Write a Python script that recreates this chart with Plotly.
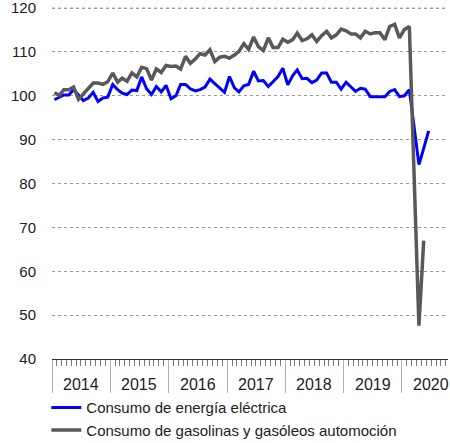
import pandas as pd
import plotly.graph_objects as go

# Monthly categories: Jan 2014 .. Jun 2020
months = pd.date_range("2014-01-01", "2020-06-01", freq="MS")
years = [2014, 2015, 2016, 2017, 2018, 2019, 2020]
y_ticks = [40, 50, 60, 70, 80, 90, 100, 110, 120]

electricidad = [
    99.1, 99.7, 100.2, 100.2, 101.4, 100.2, 98.9, 99.5, 100.8, 98.7, 99.5, 99.7,   # 2014
    102.6, 101.4, 100.6, 100.3, 101.3, 101.2, 104.3, 101.6, 100.3, 102.1, 100.9, 102.4,  # 2015
    99.3, 100.0, 102.6, 102.6, 101.6, 101.1, 101.4, 102.0, 103.8, 102.8, 101.8, 100.8,  # 2016
    104.4, 101.8, 100.9, 102.3, 102.6, 105.6, 103.4, 103.5, 102.1, 103.3, 104.4, 106.3,  # 2017
    102.5, 104.6, 105.9, 103.9, 104.0, 103.0, 103.6, 105.2, 105.2, 103.1, 103.1, 101.5,  # 2018
    103.1, 102.0, 101.0, 101.7, 101.5, 99.8, 99.8, 99.8, 99.8, 101.0, 101.4, 99.8,      # 2019
    100.0, 101.4, 93.0, 84.3, 88.0, 92.0,                                              # 2020
]

carburantes = [
    100.7, 100.1, 101.4, 101.4, 102.0, 99.2, 100.4, 101.6, 102.9, 102.9, 102.6, 103.2,  # 2014
    105.2, 103.1, 104.0, 103.3, 105.2, 104.3, 106.5, 106.2, 103.6, 106.1, 105.3, 106.9,  # 2015
    106.7, 106.8, 106.1, 109.0, 107.4, 108.4, 109.6, 109.3, 110.5, 107.8, 108.8, 109.0,  # 2016
    108.6, 109.3, 110.1, 111.9, 110.6, 113.4, 111.2, 110.3, 113.2, 111.0, 111.0, 112.9,  # 2017
    112.2, 112.8, 114.3, 112.6, 113.0, 113.9, 112.4, 113.7, 114.7, 113.2, 113.9, 115.2,  # 2018
    114.8, 114.1, 114.1, 113.2, 114.7, 114.1, 114.4, 114.4, 112.8, 115.8, 116.3, 113.2,  # 2019
    115.1, 115.8, 82.0, 47.6, 67.0,                                                    # 2020
]

series_names = [
    "Consumo de energía eléctrica",
    "Consumo de gasolinas y gasóleos automoción",
]

# place each monthly point in the middle of its month slot
x_mid = months + pd.Timedelta(days=15)

fig = go.Figure()
fig.add_trace(go.Scatter(
    x=x_mid[:len(electricidad)], y=electricidad, mode="lines",
    name=series_names[0], line=dict(color="#0000ff", width=3),
    legendgroup="a",
))
fig.add_trace(go.Scatter(
    x=x_mid[:len(carburantes)], y=carburantes, mode="lines",
    name=series_names[1], line=dict(color="#595959", width=3.5),
    legendgroup="b",
))

font_family = "Liberation Sans, Arial, sans-serif"

# year labels centred in each year's period
for yr in years:
    fig.add_annotation(
        x=f"{yr}-07-02", xref="x", y=-0.072, yref="paper",
        text=str(yr), showarrow=False, yanchor="middle", xanchor="center",
        font=dict(size=16, family=font_family, color="#222222"),
    )

# top gridline (at the highest tick) drawn explicitly so it is not dropped at the edge
fig.add_shape(
    type="line", xref="paper", x0=0, x1=1, yref="y",
    y0=y_ticks[-1], y1=y_ticks[-1], layer="below",
    line=dict(color="#9a9a9a", width=1, dash="dot"),
)

fig.update_layout(
    width=450, height=443,
    margin=dict(l=52, r=2, t=5, b=84, autoexpand=False),
    paper_bgcolor="white", plot_bgcolor="white",
    font=dict(family=font_family, color="#222222"),
    showlegend=True,
    legend=dict(
        orientation="v", xref="container", x=0.103, xanchor="left",
        yref="container", y=0.117, yanchor="top",
        font=dict(size=15, family=font_family, color="#222222"),
        tracegroupgap=0, bgcolor="rgba(0,0,0,0)", itemwidth=30,
    ),
    xaxis=dict(
        type="date",
        range=["2014-01-01", "2020-10-15"],
        dtick="M12", tick0="2014-01-01",
        showticklabels=False, automargin=False,
        ticks="outside", ticklen=33, tickwidth=1, tickcolor="#b0b0b0",
        showgrid=False, zeroline=False,
        showline=True, linecolor="#333333", linewidth=1,
        minor=dict(ticks="outside", ticklen=6, dtick="M1", tick0="2014-01-01",
                   tickcolor="#777777", tickwidth=1, showgrid=False),
        fixedrange=True,
    ),
    yaxis=dict(
        range=[40, 120.7], tickvals=y_ticks,
        showgrid=True, gridcolor="#9a9a9a", griddash="dot", gridwidth=1,
        zeroline=False, showline=False, ticks="", automargin=False,
        ticklabelstandoff=15, ticklabeloverflow="allow",
        tickfont=dict(size=15, family=font_family, color="#222222"),
        fixedrange=True,
    ),
)

fig.write_html("out.html", config={"displayModeBar": False},
               post_script="document.body.style.margin='0';")
